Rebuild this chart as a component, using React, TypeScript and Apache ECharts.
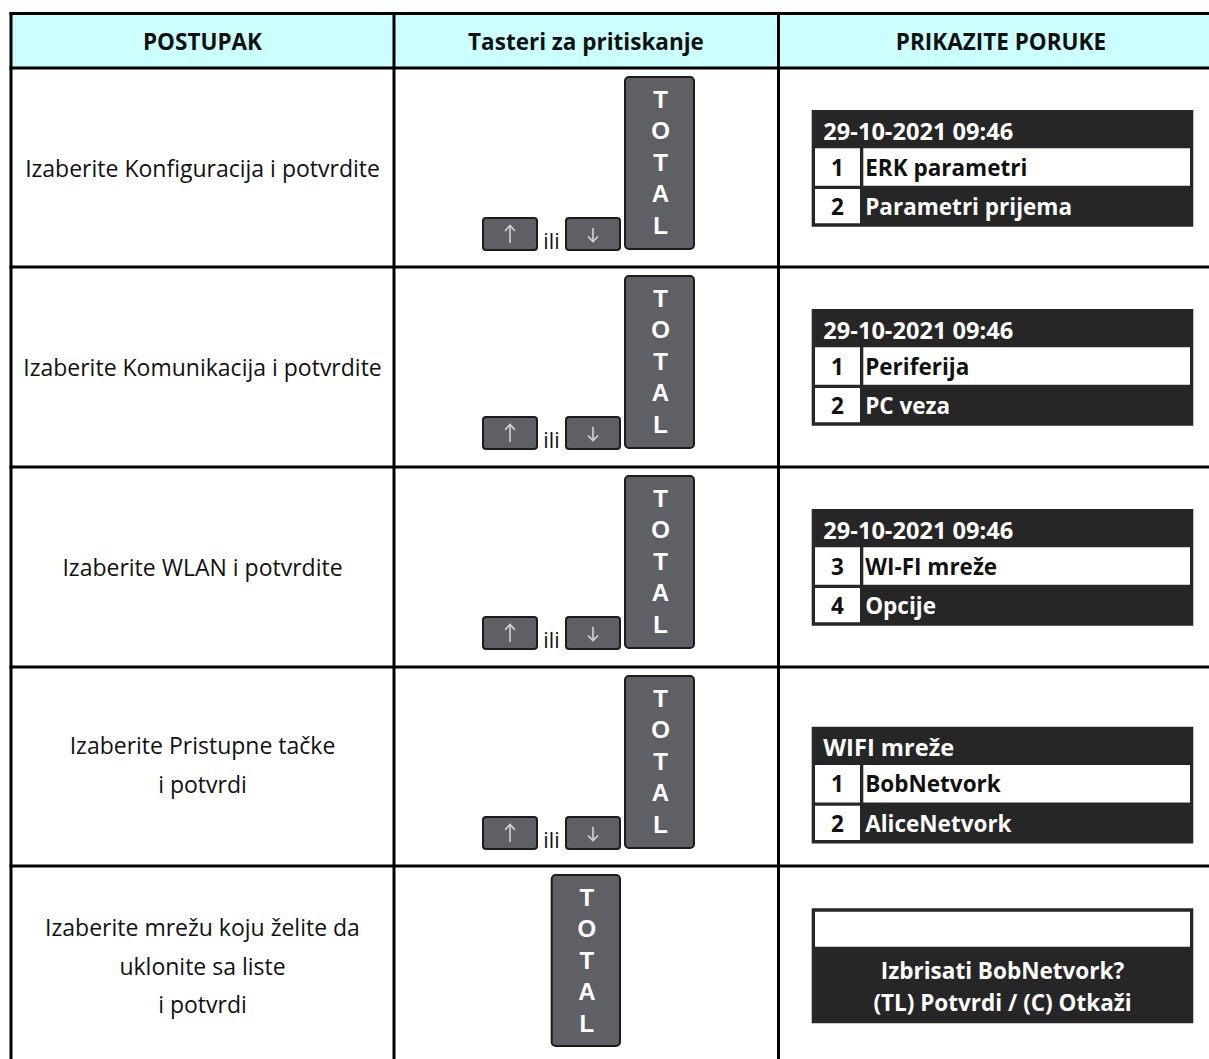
import React, { useEffect, useRef } from "react";
import * as echarts from "echarts";

// ---- content ----
const headers = ["POSTUPAK", "Tasteri za pritiskanje", "PRIKAZITE PORUKE"];
const steps: string[][] = [
  ["Izaberite Konfiguracija i potvrdite"],
  ["Izaberite Komunikacija i potvrdite"],
  ["Izaberite WLAN i potvrdite"],
  ["Izaberite Pristupne tačke", "i potvrdi"],
  ["Izaberite mrežu koju želite da", "uklonite sa liste", "i potvrdi"],
];
const hasArrows = [true, true, true, true, false];
const keyLetters = ["T", "O", "T", "A", "L"];
const orWord = "ili";
const displayTitles = ["29-10-2021 09:46", "29-10-2021 09:46", "29-10-2021 09:46", "WIFI mreže"];
const displayItems: string[][][] = [
  [["1", "ERK parametri"], ["2", "Parametri prijema"]],
  [["1", "Periferija"], ["2", "PC veza"]],
  [["3", "WI-FI mreže"], ["4", "Opcije"]],
  [["1", "BobNetvork"], ["2", "AliceNetvork"]],
];
const confirmLines = ["Izbrisati BobNetvork?", "(TL) Potvrdi / (C) Otkaži"];

// ---- layout ----
const W = 1209;
const H = 1059;
const LEFT = 11;
const TOP = 13.5;
const HEADER_BOTTOM = 68;
const ROW_TOPS = [68, 267, 467, 667, 866];
const COL_X = [394, 778.5];
const COL_CENTERS = [202.5, 586, 1001];
const LINE_W = 3;
const FONT = '"Open Sans", "Noto Sans", sans-serif';
const KEY_FILL = "#5f6066";
const KEY_BORDER = "#1c1c1e";
const PANEL_DARK = "#262626";
const HEADER_BG = "#ccffff";

function text(x: number, y: number, s: string, opts: any = {}) {
  return {
    type: "text",
    x,
    y,
    scaleX: opts.scaleX ?? 1,
    silent: true,
    z: 10,
    style: {
      text: s,
      x: 0,
      y: 0,
      fill: opts.fill ?? "#111111",
      fontSize: opts.size ?? (opts.weight === "bold" ? 22.5 : 23),
      fontFamily: opts.family ?? FONT,
      fontWeight: opts.weight ?? "normal",
      align: opts.align ?? "center",
      verticalAlign: "middle",
    },
  };
}

function totalKey(x: number, y: number, w: number, h: number) {
  const els: any[] = [
    {
      type: "rect",
      shape: { x, y, width: w, height: h, r: 4 },
      style: { fill: KEY_FILL, stroke: KEY_BORDER, lineWidth: 2 },
      z: 5,
    },
  ];
  keyLetters.forEach((l, i) => {
    els.push(
      text(x + w / 2 + 1, y + 22 + i * 31.6, l, {
        fill: "#ffffff",
        size: 24,
        weight: "bold",
        family: '"Liberation Sans", Arial, sans-serif',
      })
    );
  });
  return els;
}

function arrowKey(x: number, y: number, up: boolean) {
  const w = 54;
  const h = 32;
  const cx = x + w / 2;
  const els: any[] = [
    {
      type: "rect",
      shape: { x, y, width: w, height: h, r: 3 },
      style: { fill: KEY_FILL, stroke: KEY_BORDER, lineWidth: 2 },
      z: 5,
    },
  ];
  const stroke = { stroke: "#d4d4d8", lineWidth: 1.6, fill: "none" };
  if (up) {
    els.push({ type: "line", shape: { x1: cx, y1: y + 25, x2: cx, y2: y + 8 }, style: stroke, z: 6 });
    els.push({ type: "polyline", shape: { points: [[cx - 5, y + 13], [cx, y + 7.5], [cx + 5, y + 13]] }, style: stroke, z: 6 });
  } else {
    els.push({ type: "line", shape: { x1: cx, y1: y + 10, x2: cx, y2: y + 23 }, style: stroke, z: 6 });
    els.push({ type: "polyline", shape: { points: [[cx - 5, y + 18.5], [cx, y + 23.5], [cx + 5, y + 18.5]] }, style: stroke, z: 6 });
  }
  return els;
}

function menuPanel(x0: number, y0: number, title: string, items: string[][]) {
  const w = 381.6;
  const h = 116.7;
  const els: any[] = [
    { type: "rect", shape: { x: x0, y: y0, width: w, height: h }, style: { fill: PANEL_DARK }, z: 5 },
    text(x0 + 11.6, y0 + 21, title, { fill: "#ffffff", weight: "bold", align: "left", scaleX: 1.05 }),
    // first item: both cells white
    { type: "rect", shape: { x: x0 + 3.3, y: y0 + 38.3, width: 45, height: 37.4 }, style: { fill: "#ffffff" }, z: 6 },
    { type: "rect", shape: { x: x0 + 51.6, y: y0 + 38.3, width: 326.7, height: 37.4 }, style: { fill: "#ffffff" }, z: 6 },
    text(x0 + 25.8, y0 + 57, items[0][0], { weight: "bold" }),
    text(x0 + 53.5, y0 + 57, items[0][1], { weight: "bold", align: "left" }),
    // second item: number cell white, label on dark
    { type: "rect", shape: { x: x0 + 3.3, y: y0 + 79, width: 45, height: 34.3 }, style: { fill: "#ffffff" }, z: 6 },
    text(x0 + 25.8, y0 + 96.5, items[1][0], { weight: "bold" }),
    text(x0 + 53.5, y0 + 96.5, items[1][1], { weight: "bold", align: "left", fill: "#ffffff" }),
  ];
  return els;
}

function confirmPanel(x0: number, y0: number) {
  const w = 381.6;
  const h = 115;
  const els: any[] = [
    { type: "rect", shape: { x: x0, y: y0, width: w, height: h }, style: { fill: PANEL_DARK }, z: 5 },
    { type: "rect", shape: { x: x0 + 3.3, y: y0 + 3.4, width: 375, height: 35 }, style: { fill: "#ffffff" }, z: 6 },
  ];
  confirmLines.forEach((l, i) => {
    els.push(text(x0 + w / 2, y0 + 62 + i * 31.7, l, { fill: "#ffffff", weight: "bold" }));
  });
  return els;
}

function buildElements() {
  const els: any[] = [];
  // header background
  els.push({
    type: "rect",
    shape: { x: LEFT, y: TOP, width: W + 10 - LEFT, height: HEADER_BOTTOM - TOP },
    style: { fill: HEADER_BG },
    z: 1,
  });
  // grid lines
  const lineStyle = { stroke: "#000000", lineWidth: LINE_W };
  const hy = [TOP, ...ROW_TOPS];
  hy.forEach((y) => {
    els.push({ type: "line", shape: { x1: LEFT - 1.5, y1: y, x2: W + 10, y2: y }, style: lineStyle, z: 20 });
  });
  [LEFT, ...COL_X].forEach((x) => {
    els.push({ type: "line", shape: { x1: x, y1: TOP - 1.5, x2: x, y2: H + 10 }, style: lineStyle, z: 20 });
  });
  // header texts
  headers.forEach((h, i) => {
    els.push(text(COL_CENTERS[i], 41, h, { weight: "bold" }));
  });
  // rows
  ROW_TOPS.forEach((T, r) => {
    const lines = steps[r];
    const lh = 38.5;
    const mid = r === 3 ? T + 97.5 : T + 99.5;
    lines.forEach((l, i) => {
      els.push(text(COL_CENTERS[0], mid + (i - (lines.length - 1) / 2) * lh, l));
    });
    if (hasArrows[r]) {
      els.push(...arrowKey(483, T + 150, true));
      els.push(text(551.5, T + 172, orWord, { size: 21.5 }));
      els.push(...arrowKey(566, T + 150, false));
      els.push(...totalKey(625, T + 9, 69, 172));
    } else {
      els.push(...totalKey(551.7, T + 9, 68.3, 171));
    }
    if (r < 4) {
      const off = r === 3 ? 59.7 : 42;
      els.push(...menuPanel(811.7, T + off, displayTitles[r], displayItems[r]));
    } else {
      els.push(...confirmPanel(811.7, T + 42.3));
    }
  });
  return els;
}

export default function App() {
  const ref = useRef<HTMLDivElement>(null);
  useEffect(() => {
    document.body.style.margin = "0";
    document.body.style.overflow = "hidden";
    if (!ref.current) return;
    const chart = echarts.init(ref.current, undefined, { renderer: "svg" });
    chart.setOption({
      animation: false,
      backgroundColor: "#ffffff",
      graphic: { elements: buildElements() },
    });
    return () => chart.dispose();
  }, []);
  return <div ref={ref} style={{ width: W, height: H }} />;
}
